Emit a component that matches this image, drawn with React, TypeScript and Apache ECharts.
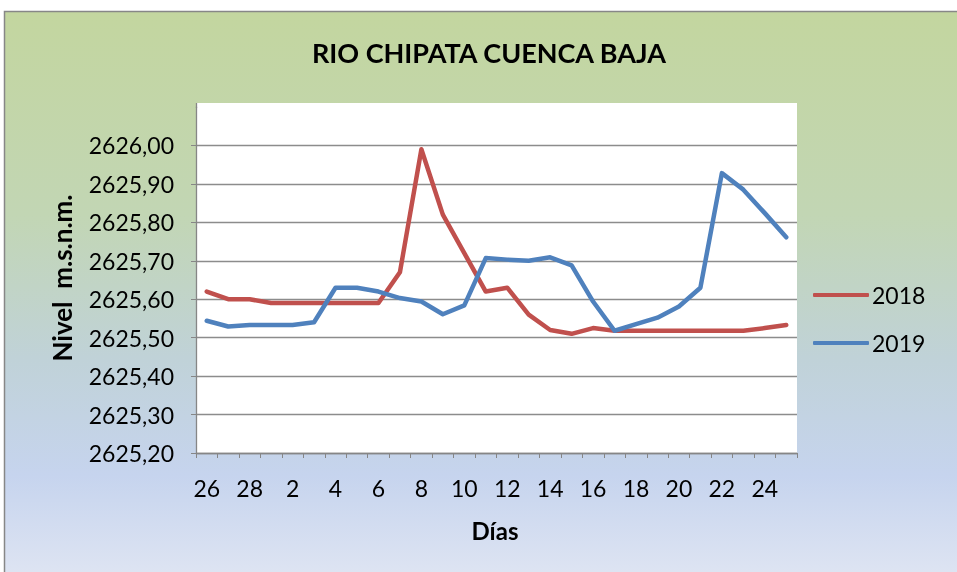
import React, { useEffect, useRef } from "react";
import * as echarts from "echarts";

const days = ["26", "27", "28", "1", "2", "3", "4", "5", "6", "7", "8", "9", "10", "11", "12", "13", "14", "15", "16", "17", "18", "19", "20", "21", "22", "23", "24", "25"];

const nivel2018 = [2625.62, 2625.60, 2625.60, 2625.59, 2625.59, 2625.59, 2625.59, 2625.59, 2625.59, 2625.67, 2625.99, 2625.82, 2625.72, 2625.62, 2625.63, 2625.56, 2625.52, 2625.51, 2625.525, 2625.518, 2625.518, 2625.518, 2625.518, 2625.518, 2625.518, 2625.518, 2625.525, 2625.533];

const nivel2019 = [2625.544, 2625.529, 2625.533, 2625.533, 2625.533, 2625.54, 2625.63, 2625.63, 2625.62, 2625.603, 2625.594, 2625.561, 2625.584, 2625.707, 2625.703, 2625.70, 2625.709, 2625.688, 2625.594, 2625.518, 2625.535, 2625.552, 2625.581, 2625.63, 2625.928, 2625.885, 2625.824, 2625.761];

const seriesNames = ["2018", "2019"];
const titleText = "RIO CHIPATA CUENCA BAJA";
const xTitle = "Días";
const yTitle = "Nivel  m.s.n.m.";

const FONT = "Lato, 'Noto Sans', sans-serif";

export default function App() {
  const ref = useRef<HTMLDivElement>(null);
  useEffect(() => {
    if (!ref.current) return;
    const chart = echarts.init(ref.current, undefined, { renderer: "svg" });
    const gl = 196, gr = 797, gt = 103, gb = 453;
    const gtAxis = 107;
    chart.setOption({
      animation: false,
      textStyle: { fontFamily: FONT },
      title: {
        text: titleText,
        left: 489,
        top: 33,
        padding: 0,
        textAlign: "center",
        textStyle: { fontFamily: FONT, fontSize: 27, fontWeight: "bold", color: "#000", lineHeight: 38 },
      },
      legend: {
        orient: "vertical",
        left: 813,
        top: 283,
        padding: 0,
        itemWidth: 56,
        itemHeight: 4,
        itemGap: 24,
        icon: "roundRect",
        data: seriesNames,
        textStyle: { fontFamily: FONT, fontSize: 23, color: "#000", lineHeight: 24, padding: [0, 0, 0, -2] },
      },
      grid: { left: gl, right: 957 - gr, top: gtAxis, bottom: 572 - gb, containLabel: false },
      xAxis: {
        type: "category",
        data: days,
        boundaryGap: true,
        axisLine: { lineStyle: { color: "#868686", width: 1.3 } },
        axisTick: { show: true, length: 5, interval: 0, lineStyle: { color: "#868686" } },
        axisLabel: { interval: 1, margin: 23, fontSize: 23, color: "#000", fontFamily: FONT },
        splitLine: { show: false },
      },
      yAxis: {
        type: "value",
        min: 2625.2,
        max: 2626.1,
        interval: 0.1,
        axisLine: { show: true, lineStyle: { color: "#868686", width: 1.3 } },
        axisTick: { show: true, length: 5, lineStyle: { color: "#868686" } },
        axisLabel: {
          margin: 22,
          fontSize: 23,
          color: "#000",
          fontFamily: FONT,
          showMaxLabel: false,
          formatter: (v: number) => v.toFixed(2).replace(".", ","),
        },
        splitLine: { show: true, showMaxLine: false, lineStyle: { color: "#8c8c8c", width: 1.3 } },
      },
      series: [
        {
          name: seriesNames[0],
          type: "line",
          data: nivel2018,
          symbol: "none",
          lineStyle: { color: "#c0504d", width: 4.5, join: "round", cap: "round" },
          itemStyle: { color: "#c0504d" },
        },
        {
          name: seriesNames[1],
          type: "line",
          data: nivel2019,
          symbol: "none",
          lineStyle: { color: "#4f81bd", width: 4.5, join: "round", cap: "round" },
          itemStyle: { color: "#4f81bd" },
        },
      ],
      graphic: [
        {
          type: "rect",
          z: -10,
          silent: true,
          shape: { x: 4.5, y: 11.5, width: 970, height: 580 },
          style: {
            fill: new echarts.graphic.LinearGradient(0, 0, 0, 1, [
              { offset: 0, color: "#c3d69f" },
              { offset: 0.35, color: "#c2d6b4" },
              { offset: 0.6, color: "#c0d2d8" },
              { offset: 0.8, color: "#c6d4ee" },
              { offset: 1, color: "#e2e7f3" },
            ]),
            stroke: "#878787",
            lineWidth: 1.5,
          },
        },
        {
          type: "rect",
          z: -9,
          silent: true,
          shape: { x: gl, y: gt, width: gr - gl, height: gb - gt },
          style: { fill: "#ffffff" },
        },
        {
          type: "line",
          silent: true,
          shape: { x1: gl + 0.5, y1: gt, x2: gl + 0.5, y2: gtAxis + 1 },
          style: { stroke: "#868686", lineWidth: 1.3 },
        },
        {
          type: "text",
          x: 495,
          y: 530,
          style: {
            text: xTitle,
            fontFamily: FONT,
            fontSize: 24,
            fontWeight: "bold",
            fill: "#000",
            align: "center",
            verticalAlign: "middle",
          },
        },
        {
          type: "text",
          x: 62,
          y: 278,
          rotation: Math.PI / 2,
          style: {
            text: yTitle,
            fontFamily: FONT,
            fontSize: 26,
            fontWeight: "bold",
            fill: "#000",
            align: "center",
            verticalAlign: "middle",
          },
        },
      ],
    });
    return () => chart.dispose();
  }, []);
  return <div ref={ref} style={{ position: "fixed", left: 0, top: 0, width: 957, height: 572 }} />;
}
